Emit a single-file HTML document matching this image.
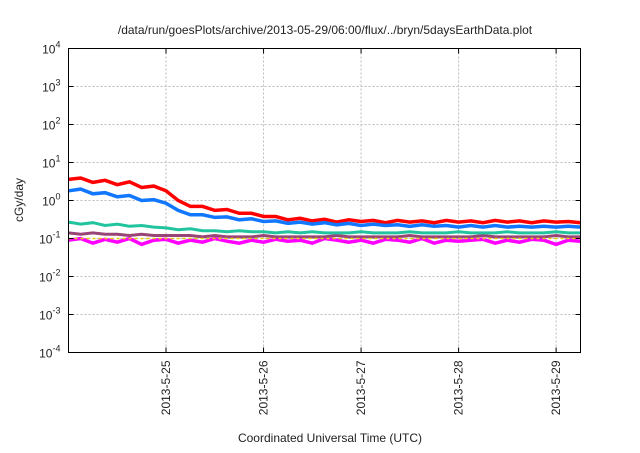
<!DOCTYPE html>
<html><head><meta charset="utf-8"><style>
body{margin:0;background:#fff;}
svg text{font-family:"Liberation Sans",sans-serif;fill:#222;}
</style></head><body>
<svg id="c" width="640" height="448" xmlns="http://www.w3.org/2000/svg">
<text x="325" y="34" font-size="12" text-anchor="middle">/data/run/goesPlots/archive/2013-05-29/06:00/flux/../bryn/5daysEarthData.plot</text>
<text x="330" y="442" font-size="12" text-anchor="middle">Coordinated Universal Time (UTC)</text>
<text transform="translate(23,200) rotate(-90)" font-size="12" text-anchor="middle">cGy/day</text>
<g id="grid"></g><g id="series"></g><g id="axes"></g>
</svg>
<script>
const yExponents=[-4,-3,-2,-1,0,1,2,3,4];
const xTickLabels=["2013-5-25","2013-5-26","2013-5-27","2013-5-28","2013-5-29"];
const xTickDays=[1,2,3,4,5];
const stepHours=3;
const redVals=[3.6,3.9,3.0,3.4,2.6,3.1,2.2,2.4,1.8,1.0,0.7,0.7,0.55,0.58,0.46,0.46,0.38,0.38,0.31,0.34,0.29,0.32,0.27,0.31,0.28,0.3,0.26,0.3,0.27,0.29,0.26,0.3,0.27,0.29,0.26,0.3,0.27,0.29,0.26,0.29,0.27,0.28,0.26];
const blueVals=[1.8,2.0,1.5,1.6,1.25,1.35,1.0,1.05,0.85,0.55,0.42,0.42,0.36,0.37,0.31,0.33,0.28,0.29,0.25,0.27,0.24,0.26,0.23,0.25,0.22,0.24,0.22,0.23,0.21,0.23,0.21,0.22,0.2,0.22,0.2,0.22,0.2,0.21,0.2,0.21,0.2,0.21,0.2];
const tealVals=[0.27,0.24,0.26,0.22,0.24,0.21,0.22,0.2,0.19,0.17,0.18,0.16,0.16,0.15,0.16,0.15,0.15,0.14,0.15,0.14,0.15,0.14,0.14,0.14,0.15,0.14,0.14,0.14,0.15,0.14,0.14,0.14,0.15,0.14,0.14,0.14,0.15,0.14,0.14,0.14,0.15,0.14,0.14];
const purpleVals=[0.14,0.13,0.14,0.13,0.13,0.12,0.13,0.12,0.12,0.12,0.12,0.11,0.12,0.11,0.11,0.11,0.12,0.11,0.11,0.11,0.11,0.11,0.12,0.11,0.11,0.11,0.11,0.11,0.12,0.11,0.11,0.11,0.11,0.11,0.12,0.11,0.11,0.11,0.11,0.11,0.12,0.11,0.11];
const magentaVals=[0.09,0.1,0.075,0.095,0.08,0.1,0.07,0.09,0.095,0.075,0.09,0.08,0.1,0.085,0.075,0.09,0.08,0.095,0.085,0.09,0.075,0.1,0.09,0.08,0.09,0.075,0.095,0.09,0.08,0.1,0.075,0.09,0.085,0.09,0.095,0.075,0.09,0.08,0.095,0.09,0.07,0.09,0.085];
const yellowVals=[0.1,0.1];
const L=68.5,R=580.5,T=48.5,B=352.5,DAYS=5.25;
const xS=d=>L+d/DAYS*(R-L);
const yS=v=>B-(Math.log10(v)+4)/8*(B-T);
const NS="http://www.w3.org/2000/svg";
function mk(tag,parent,attrs){const e=document.createElementNS(NS,tag);for(const k in attrs)e.setAttribute(k,attrs[k]);parent.appendChild(e);return e;}
const grid=document.getElementById('grid'),ser=document.getElementById('series'),ax=document.getElementById('axes');
yExponents.forEach(p=>{const y=yS(Math.pow(10,p));
 if(p>-4&&p<4){const g=mk('line',grid,{x1:L,x2:R,y1:y,y2:y,stroke:'#bbb','stroke-dasharray':'2,2'});
 
 }
 const t=mk('text',ax,{x:L-8,y:y+5,'font-size':'12','text-anchor':'end'});
 
 
 t.innerHTML='10<tspan dy="-6" font-size="9">'+p+'</tspan>';
 mk('line',ax,{x1:L,x2:L+5,y1:y,y2:y,stroke:'#000'});mk('line',ax,{x1:R,x2:R-5,y1:y,y2:y,stroke:'#000'});
});
xTickDays.forEach((d,i)=>{const x=xS(d);
 const g=mk('line',grid,{x1:x,x2:x,y1:T,y2:B,stroke:'#bbb','stroke-dasharray':'2,2'});
 
 
 mk('line',ax,{x1:x,x2:x,y1:B,y2:B-5,stroke:'#000'});mk('line',ax,{x1:x,x2:x,y1:T,y2:T+5,stroke:'#000'});
 const t=mk('text',ax,{transform:`translate(${x+4},${B+8}) rotate(-90)`,'font-size':'12','text-anchor':'end'});
 
 
 t.textContent=xTickLabels[i];
});
const fr=mk('rect',ax,{x:L,y:T,width:R-L,height:B-T,fill:'none',stroke:'#000'});


function line(vals,color,name,w,dash){
 const n=vals.length,step=n>2?stepHours/24:DAYS;
 const pts=vals.map((v,i)=>xS(Math.min(i*step,DAYS)).toFixed(1)+','+yS(v).toFixed(1)).join(' ');
 const p=mk('polyline',ser,{points:pts,fill:'none',stroke:color,'stroke-width':w,'stroke-linejoin':'miter'});
 if(dash)p.setAttribute('stroke-dasharray',dash);
 
 
}
line(magentaVals,'#ff00ff','series-magenta',3.5);
line(purpleVals,'#994477','series-purple',3);
line(yellowVals,'#e8d000','series-yellow',1.5,'3,3');
line(tealVals,'#22c4a0','series-teal',3);
line(redVals,'#ff0000','series-red',3.5);
line(blueVals,'#1177ff','series-blue',3.5);
</script>
</body></html>
